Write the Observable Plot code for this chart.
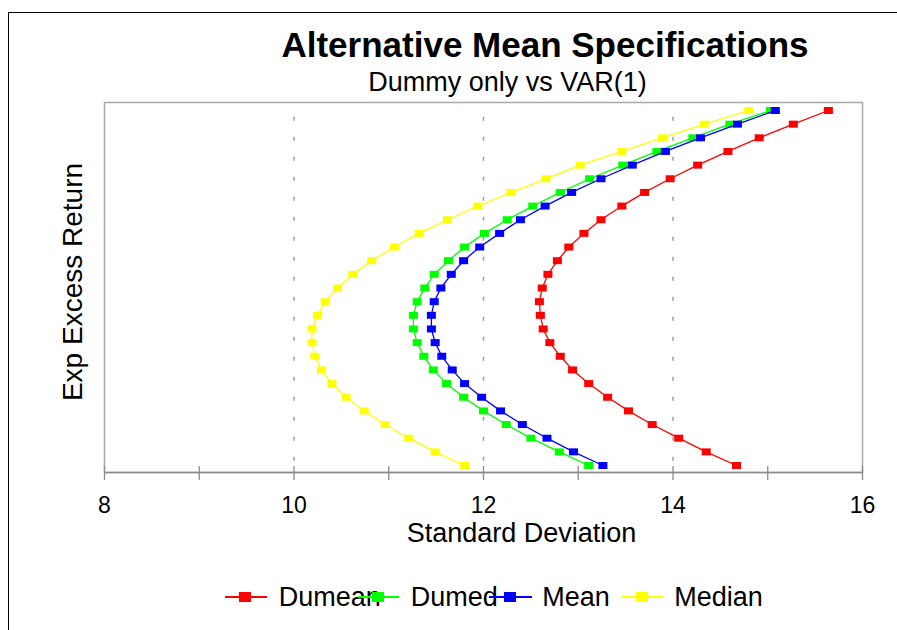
<!DOCTYPE html>
<html>
<head>
<meta charset="utf-8">
<script src="https://cdn.jsdelivr.net/npm/d3@7"></script>
<script src="https://cdn.jsdelivr.net/npm/@observablehq/plot@0.6"></script>
<style>
  body { margin: 0; background: #fff; }
  #wrap { position: relative; width: 897px; height: 630px; overflow: hidden;
          font-family: "Liberation Sans", Arial, sans-serif; color: #000; background: #fff; }
  #border { position: absolute; left: 8px; top: 12px; width: 1200px; height: 1200px;
            border-left: 1.5px solid #000; border-top: 1.5px solid #000; }
  .t { position: absolute; white-space: nowrap; }
  #title { left: 545px; top: 27px; font-size: 35px; line-height: 35px; font-weight: bold; transform: translateX(-50%); }
  #subtitle { left: 507.5px; top: 69px; font-size: 27px; line-height: 27px; transform: translateX(-50%); }
  #xlabel { left: 521.5px; top: 520px; font-size: 27px; line-height: 27px; transform: translateX(-50%); }
  #ylabel { left: 73px; top: 281.5px; font-size: 28px; line-height: 28px; transform: translate(-50%, -50%) rotate(-90deg); }
  #chart { position: absolute; left: 0; top: 90px; }
  .lg-line { position: absolute; height: 1.5px; }
  .lg-mark { position: absolute; width: 12px; height: 10px; }
  .lg-text { position: absolute; font-size: 27px; line-height: 27px; white-space: nowrap; }
</style>
</head>
<body>
<div id="wrap">
  <div id="border"></div>
  <div class="t" id="title">Alternative Mean Specifications</div>
  <div class="t" id="subtitle">Dummy only vs VAR(1)</div>
  <div class="t" id="ylabel">Exp Excess Return</div>
  <div class="t" id="xlabel">Standard Deviation</div>
  <div id="chart"></div>
  <div id="legend"></div>
</div>
<script>
// ---- data ----
const seriesNames = ["Dumean", "Dumed", "Mean", "Median"];
const seriesColors = ["#ff0000", "#00ff00", "#0000ff", "#ffff00"];

// expected excess return levels (y axis has no labels; nominal levels, top to bottom)
const expReturn = [13.0, 12.5, 12.0, 11.5, 11.0, 10.5, 10.0, 9.5, 9.0, 8.5, 8.0, 7.5, 7.0, 6.5,
                   6.0, 5.5, 5.0, 4.5, 4.0, 3.5, 3.0, 2.5, 2.0, 1.5, 1.0, 0.5, 0.0];

// standard deviation of each frontier point
const dumean = [15.64, 15.27, 14.91, 14.58, 14.26, 13.97, 13.70, 13.46, 13.24, 13.06, 12.90, 12.78, 12.68, 12.62,
                12.59, 12.60, 12.63, 12.70, 12.81, 12.94, 13.11, 13.31, 13.53, 13.78, 14.06, 14.35, 14.67];
const dumed  = [15.03, 14.60, 14.21, 13.83, 13.47, 13.12, 12.81, 12.52, 12.25, 12.01, 11.80, 11.63, 11.48, 11.38,
                11.30, 11.26, 11.26, 11.30, 11.37, 11.47, 11.61, 11.79, 12.00, 12.24, 12.50, 12.80, 13.11];
const mean   = [15.08, 14.68, 14.29, 13.92, 13.57, 13.24, 12.93, 12.65, 12.39, 12.17, 11.96, 11.79, 11.66, 11.55,
                11.48, 11.45, 11.45, 11.49, 11.56, 11.67, 11.80, 11.98, 12.18, 12.41, 12.67, 12.95, 13.26];
const median = [14.80, 14.33, 13.89, 13.46, 13.02, 12.66, 12.29, 11.94, 11.62, 11.32, 11.06, 10.82, 10.62, 10.46,
                10.33, 10.25, 10.19, 10.19, 10.22, 10.29, 10.40, 10.55, 10.74, 10.96, 11.21, 11.49, 11.80];

const xTicks = [8, 9, 10, 11, 12, 13, 14, 15, 16];
const xTickLabels = ["8", "", "10", "", "12", "", "14", "", "16"];
const gridValues = [10, 12, 14];

// ---- build table ----
const seriesValues = [dumean, dumed, mean, median];
const rows = seriesNames.flatMap((name, i) =>
  seriesValues[i].map((sd, k) => ({series: name, sd, ret: expReturn[k]})));

// rectangular marker
const rectSymbol = { draw(ctx) { ctx.moveTo(-4.5, -3.5); ctx.lineTo(4.5, -3.5); ctx.lineTo(4.5, 3.5); ctx.lineTo(-4.5, 3.5); ctx.closePath(); } };

const yDomain = [-0.256, 13.293];

const marks = [
  Plot.ruleX(gridValues, {stroke: "#a0a0a0", strokeWidth: 1.5, strokeDasharray: "4,16", strokeDashoffset: 5.3}),
  Plot.frame({stroke: "#a8a8a8", strokeWidth: 1.5}),
  Plot.ruleY([yDomain[0]], {stroke: "#8c8c8c", strokeWidth: 1.5}),
  Plot.tickX(xTicks, {x: d => d, stroke: "#8c8c8c", strokeWidth: 1.3, insetTop: 364}),
  Plot.axisX(xTicks, {tickSize: 8, tickPadding: 16, stroke: "#8c8c8c", strokeWidth: 1.3, label: null,
    tickFormat: d => xTickLabels[xTicks.indexOf(d)], fontSize: 23, fill: "#000"})
];
seriesNames.forEach((name, i) => {
  const data = rows.filter(r => r.series === name);
  marks.push(Plot.line(data, {x: "sd", y: "ret", stroke: seriesColors[i], strokeWidth: 1.3}));
  marks.push(Plot.dot(data, {x: "sd", y: "ret", fill: seriesColors[i], symbol: rectSymbol, stroke: "none"}));
});

const chart = Plot.plot({
  width: 897,
  height: 470,
  marginLeft: 104,
  marginRight: 35,
  marginTop: 12,
  marginBottom: 88,
  style: {fontFamily: '"Liberation Sans", Arial, sans-serif', fontSize: "23px", background: "transparent", overflow: "visible"},
  x: {domain: [8, 16], axis: null, label: null},
  y: {domain: yDomain, axis: null, label: null},
  marks
});
document.getElementById("chart").appendChild(chart);

// ---- legend ----
const legendItems = [
  {line: [224.6, 267.3], mark: 245.4, text: 278.8},
  {line: [357.7, 399.2], mark: 377.7, text: 410.8},
  {line: [488.5, 531.5], mark: 509.6, text: 542.3},
  {line: [621.9, 663.5], mark: 642.3, text: 674.2}
];
const legend = document.getElementById("legend");
const lgY = 597;
seriesNames.forEach((name, i) => {
  const it = legendItems[i];
  const ln = document.createElement("div");
  ln.className = "lg-line";
  ln.style.left = it.line[0] + "px"; ln.style.width = (it.line[1] - it.line[0]) + "px";
  ln.style.top = (lgY - 0.75) + "px"; ln.style.background = seriesColors[i];
  legend.appendChild(ln);
  const mk = document.createElement("div");
  mk.className = "lg-mark";
  mk.style.left = (it.mark - 6) + "px"; mk.style.top = (lgY - 5) + "px"; mk.style.background = seriesColors[i];
  legend.appendChild(mk);
  const tx = document.createElement("div");
  tx.className = "lg-text";
  tx.style.left = it.text + "px"; tx.style.top = "584px";
  tx.textContent = name;
  legend.appendChild(tx);
});
</script>
</body>
</html>
